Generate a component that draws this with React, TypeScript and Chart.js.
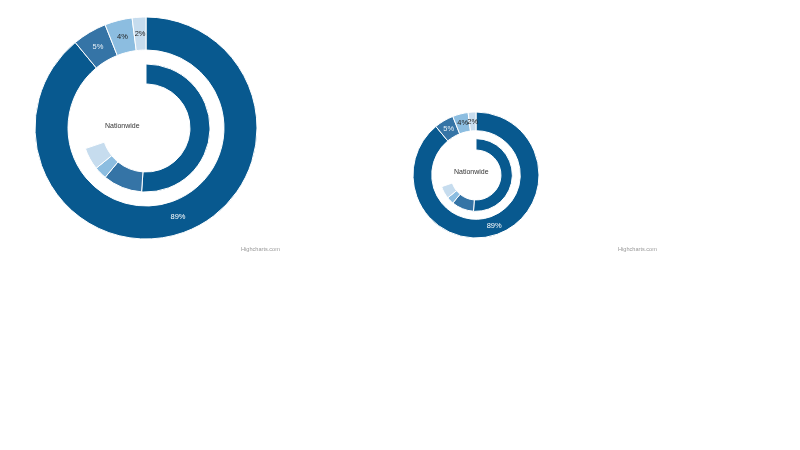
import React, { useEffect, useRef } from "react";
import Chart, { Plugin } from "chart.js/auto";

// outer ring: share of each group
const outerLabels = ["Group A", "Group B", "Group C", "Group D"];
const outerValues = [89, 5, 4, 2];
// inner ring: partial gauge, last slot is the empty remainder
const innerValues = [51.1, 9.9, 3.2, 5.6, 30.2];

const palette = ["#08598f", "#3574a6", "#8cbde0", "#c6dcee"];
const labelColors = ["#ffffff", "#e8f0f7", "#222222", "#222222"];

const percentLabels: Plugin<"doughnut"> = {
    id: "percentLabels",
    afterDatasetsDraw(chart) {
        const ctx = chart.ctx;
        const meta = chart.getDatasetMeta(0);
        ctx.save();
        ctx.font = "7.5px 'Liberation Sans', Arial, sans-serif";
        ctx.textAlign = "center";
        ctx.textBaseline = "middle";
        meta.data.forEach((arc: any, i: number) => {
            const p = arc.getCenterPoint();
            ctx.fillStyle = labelColors[i];
            ctx.fillText(outerValues[i] + "%", p.x, p.y);
        });
        ctx.restore();
    },
};

interface DonutProps {
    radius: number;
    left: number;
    top: number;
}

const Donut = ({ radius, left, top }: DonutProps) => {
    const canvasRef = useRef<HTMLCanvasElement | null>(null);
    const chartRef = useRef<Chart | null>(null);

    useEffect(() => {
        if (chartRef.current) {
            chartRef.current.destroy();
        }
        const ctx = canvasRef.current?.getContext("2d");
        if (ctx) {
            chartRef.current = new Chart(ctx, {
                type: "doughnut",
                data: {
                    labels: outerLabels,
                    datasets: [
                        {
                            data: outerValues,
                            backgroundColor: palette,
                            borderColor: "#ffffff",
                            borderWidth: 1,
                            weight: 33,
                        },
                        {
                            data: [1],
                            backgroundColor: ["rgba(0,0,0,0)"],
                            borderWidth: 0,
                            weight: 14,
                        },
                        {
                            data: innerValues,
                            backgroundColor: [...palette, "rgba(0,0,0,0)"],
                            borderColor: "#ffffff",
                            borderWidth: [1, 1, 1, 1, 0],
                            weight: 20,
                        },
                    ],
                },
                options: {
                    animation: false,
                    responsive: false,
                    radius: radius,
                    cutout: "39.64%",
                    hoverOffset: 0,
                    plugins: {
                        legend: { display: false },
                        tooltip: { enabled: false },
                    },
                },
                plugins: [percentLabels],
            });
        }
        return () => {
            if (chartRef.current) {
                chartRef.current.destroy();
                chartRef.current = null;
            }
        };
    }, [radius]);

    return (
        <canvas
            ref={canvasRef}
            width={240}
            height={240}
            style={{ position: "absolute", left, top, width: 240, height: 240 }}
        />
    );
};

const textStyle: React.CSSProperties = {
    position: "absolute",
    fontFamily: "'Liberation Sans', Arial, sans-serif",
    whiteSpace: "nowrap",
};

const App = () => {
    return (
        <div style={{ position: "absolute", left: 0, top: 0, width: 800, height: 450 }}>
            <Donut radius={111} left={26} top={8} />
            <Donut radius={63} left={356} top={55} />
            <div style={{ ...textStyle, left: 105, top: 122, fontSize: 7, color: "#333" }}>Nationwide</div>
            <div style={{ ...textStyle, left: 454, top: 168, fontSize: 7, color: "#333" }}>Nationwide</div>
            <div style={{ ...textStyle, left: 241, top: 246, fontSize: 5.6, color: "#999" }}>Highcharts.com</div>
            <div style={{ ...textStyle, left: 618, top: 246, fontSize: 5.6, color: "#999" }}>Highcharts.com</div>
        </div>
    );
};

export default App;
